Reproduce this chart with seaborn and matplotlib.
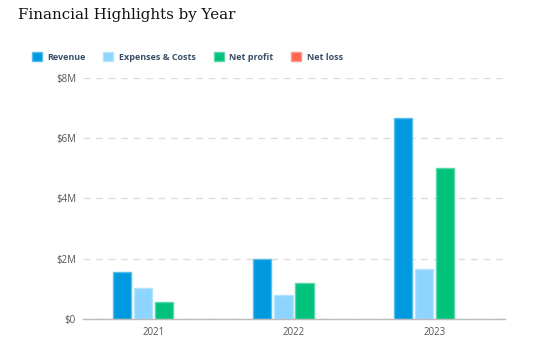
import matplotlib
matplotlib.use("Agg")
import matplotlib.pyplot as plt
import matplotlib.colors as mcolors
from matplotlib.patches import Patch
import seaborn as sns
import pandas as pd
import numpy as np

years = ["2021", "2022", "2023"]
series = ["Revenue", "Expenses & Costs", "Net profit", "Net loss"]
revenue = [1.56e6, 2.0e6, 6.68e6]
expenses = [1.03e6, 0.80e6, 1.66e6]
net_profit = [0.56e6, 1.20e6, 5.02e6]
net_loss = [0.0, 0.0, 0.0]
colors = ["#0099E0", "#8DD5FF", "#00C27B", "#FF6352"]
y_ticks = [0, 2e6, 4e6, 6e6, 8e6]
y_labels = ["$0", "$2M", "$4M", "$6M", "$8M"]

rows = []
for name, vals in zip(series, [revenue, expenses, net_profit, net_loss]):
    for y, v in zip(years, vals):
        rows.append({"Year": y, "Series": name, "Value": v})
df = pd.DataFrame(rows)

sns.set_style("white")
plt.rcParams["font.family"] = ["Open Sans", "DejaVu Sans"]


def lighter(c, f=0.35):
    a = np.array(mcolors.to_rgb(c))
    return tuple(a + (1 - a) * f)


fig = plt.figure(figsize=(5.48, 3.48), dpi=100)
ax = fig.add_axes([0.1515, 0.0833, 0.77, 0.6926])

sns.barplot(data=df, x="Year", y="Value", hue="Series", hue_order=series,
            palette=colors, width=0.6, gap=0.14, ax=ax, legend=False,
            linewidth=1.0, saturation=1)

for p in ax.patches:
    p.set_edgecolor(lighter(p.get_facecolor()))
    if p.get_height() == 0:
        p.set_visible(False)

ax.set_xlim(-0.5, 2.5)
ax.set_ylim(0, 8e6)
ax.set_yticks(y_ticks)
ax.set_yticklabels(y_labels)
ax.set_xlabel("")
ax.set_ylabel("")
for s in ["top", "right", "left"]:
    ax.spines[s].set_visible(False)
ax.spines["bottom"].set_color("#bbbbbb")
ax.spines["bottom"].set_linewidth(1.0)
ax.set_axisbelow(True)
ax.yaxis.grid(True, color="#dddddd", linestyle=(0, (5, 4)), linewidth=1.0)
ax.tick_params(axis="both", length=0, labelsize=7, labelcolor="#555555", pad=5)
ax.tick_params(axis="x", pad=6)

handles = [Patch(facecolor=c, edgecolor=lighter(c), label=s)
           for c, s in zip(colors, series)]
leg = fig.legend(handles=handles, loc="center left", bbox_to_anchor=(0.043, 0.836),
                 ncol=4, frameon=False, handlelength=1.1, handleheight=1.1,
                 handletextpad=0.6, columnspacing=2.0,
                 prop={"family": "Open Sans", "weight": "bold", "size": 6.5})
for t in leg.get_texts():
    t.set_color("#3A4F66")

fig.text(0.033, 0.958, "Financial Highlights by Year", family="DejaVu Serif",
         fontsize=10.8, color="#111111", va="center", ha="left")

fig.savefig("out.png", dpi=100)
